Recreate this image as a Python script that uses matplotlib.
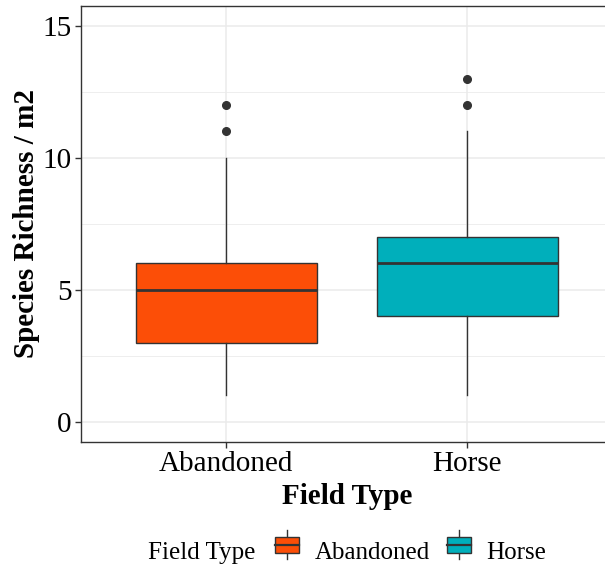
import matplotlib
matplotlib.use("Agg")
import matplotlib.pyplot as plt
from matplotlib.patches import Rectangle
from matplotlib.lines import Line2D
from matplotlib.legend_handler import HandlerBase
from matplotlib.offsetbox import HPacker

# ============================================================
# DATA — BOX SUMMARY PER FIELD TYPE
# ============================================================
field_types = ["Abandoned", "Horse"]
q1 = [3, 4]
medians = [5, 6]
q3 = [6, 7]
whisker_low = [1, 1]
whisker_high = [10, 11]
outliers = [[11, 12], [12, 13]]
colors = ["#FC4E07", "#00AFBB"]
y_ticks = [0, 5, 10, 15]

EDGE = "#333333"
GRID = "#EBEBEB"
plt.rcParams["font.family"] = ["Liberation Serif", "DejaVu Serif"]

fig = plt.figure(figsize=(6.05, 5.69), dpi=100)
# PANEL RUNS SLIGHTLY PAST THE RIGHT EDGE, AS IN THE SOURCE
ax = fig.add_axes([0.1347, 0.2237, 0.877, 0.7658])

stats = []
for i, name in enumerate(field_types):
    stats.append({"label": name, "q1": q1[i], "med": medians[i], "q3": q3[i],
                  "whislo": whisker_low[i], "whishi": whisker_high[i],
                  "fliers": outliers[i]})

bp = ax.bxp(stats, positions=[1, 2], widths=0.75, patch_artist=True,
            showcaps=False,
            boxprops=dict(edgecolor=EDGE, linewidth=1.0),
            medianprops=dict(color=EDGE, linewidth=2.0),
            whiskerprops=dict(color=EDGE, linewidth=1.0),
            flierprops=dict(marker="o", markersize=5.5, markerfacecolor=EDGE,
                            markeredgecolor=EDGE))
for patch, c in zip(bp["boxes"], colors):
    patch.set_facecolor(c)
for art in bp["boxes"] + bp["medians"] + bp["whiskers"] + bp["fliers"]:
    art.set_zorder(3)

# AXES — GGPLOT THEME_BW LOOK
ax.set_xlim(0.4, 2.6)
ax.set_ylim(-0.75, 15.75)
ax.set_yticks(y_ticks)
ax.set_yticks([2.5, 7.5, 12.5], minor=True)
ax.set_xticks([1, 2])
ax.set_xticklabels(field_types)
ax.grid(which="major", color=GRID, linewidth=1.1, zorder=0)
ax.grid(which="minor", axis="y", color=GRID, linewidth=0.6, zorder=0)
ax.set_axisbelow(True)
ax.tick_params(which="major", labelsize=21, color=EDGE, length=4, width=1,
               labelcolor="black", pad=3)
ax.tick_params(which="minor", length=0)
for s in ax.spines.values():
    s.set_color(EDGE)
    s.set_linewidth(1.0)
ax.spines["right"].set_visible(False)

ax.set_xlabel("Field Type", fontsize=21, fontweight="bold", labelpad=4)
ax.set_ylabel("Species Richness / m2", fontsize=21, fontweight="bold", labelpad=1.5)


# LEGEND — SMALL BOXPLOT GLYPHS
class BoxHandler(HandlerBase):
    def create_artists(self, legend, orig, xd, yd, w, h, fontsize, trans):
        cx = xd + w / 2
        bw = w * 0.8
        bh = h * 0.75
        by = yd + (h - bh) / 2
        top = yd + h * 1.15
        bot = yd - h * 0.15
        wl1 = Line2D([cx, cx], [by + bh, top], color=EDGE, lw=1, transform=trans)
        wl2 = Line2D([cx, cx], [bot, by], color=EDGE, lw=1, transform=trans)
        r = Rectangle((cx - bw / 2, by), bw, bh, facecolor=orig.get_facecolor(),
                      edgecolor=EDGE, lw=1, transform=trans)
        m = Line2D([cx - bw / 2, cx + bw / 2], [by + bh / 2, by + bh / 2],
                   color=EDGE, lw=1.6, transform=trans)
        return [wl1, wl2, r, m]


handles = [Rectangle((0, 0), 1, 1, facecolor=c) for c in colors]
leg = fig.legend(handles, field_types, loc="center", bbox_to_anchor=(0.574, 0.031),
                 ncol=2, frameon=False, fontsize=18, title="Field Type",
                 title_fontsize=18, handler_map={Rectangle: BoxHandler()},
                 handlelength=1.2, handleheight=1.0, handletextpad=0.5,
                 columnspacing=0.55)
# PUT TITLE INLINE WITH THE ENTRIES
title_box = leg._legend_title_box
leg._legend_box._children = [HPacker(children=[title_box, leg._legend_handle_box],
                                     pad=0, sep=12, align="baseline")]

fig.savefig("out.png", dpi=100)
